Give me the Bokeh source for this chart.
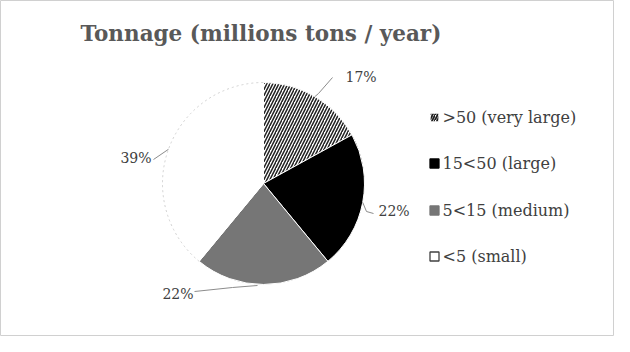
import numpy as np
from bokeh.plotting import figure
from bokeh.models import Range1d
from bokeh.core.properties import value
from bokeh.embed import file_html
from bokeh.resources import INLINE

# ---- data ----
categories = [">50  (very large)", "15<50 (large)", "5<15 (medium)", "<5 (small)"]
shares = [17, 22, 22, 39]
pct_labels = ["17%", "22%", "22%", "39%"]
fill_colors = ["white", "black", "#767676", "white"]
hatches = ["/", " ", " ", " "]

W, H = 614, 336
p = figure(width=W, height=H, output_backend="svg", toolbar_location=None,
           x_range=Range1d(0, W), y_range=Range1d(0, H), min_border=0)
p.axis.visible = False
p.grid.visible = False
p.outline_line_color = "#d0d0d0"
p.outline_line_width = 1
p.background_fill_color = "white"

FONT = value("DejaVu Serif")

def X(ix):
    return ix
def Y(iy):
    return H - iy

cx, cy, r = X(263), Y(183), 101

# wedges, clockwise from 12 o'clock
fr = np.array(shares) / sum(shares)
cum = np.concatenate([[0], np.cumsum(fr)])
start = np.pi / 2 - 2 * np.pi * cum[:-1]
end = np.pi / 2 - 2 * np.pi * cum[1:]
for i in range(len(shares)):
    p.wedge(x=cx, y=cy, radius=r, start_angle=start[i], end_angle=end[i],
            direction="clock", fill_color=fill_colors[i], line_color="#ffffff",
            line_width=1, hatch_pattern=hatches[i], hatch_color="#202020",
            hatch_scale=6, hatch_weight=1.5)
# faint outline of the white slice
p.arc(x=cx, y=cy, radius=r, start_angle=start[3], end_angle=end[3],
      direction="clock", line_color="#d0d0d0", line_width=1, line_dash="2 3")

# leader lines and percentage labels
mid = np.pi / 2 - 2 * np.pi * (cum[:-1] + fr / 2)
ex = cx + r * np.cos(mid)
ey = cy + r * np.sin(mid)
lead_x = [[ex[0], X(318), X(332)], [ex[1], X(366), X(373)],
          [ex[2] - 6, X(232), X(194)], [ex[3], X(153)]]
lead_y = [[ey[0], Y(93), Y(77)], [ey[1], Y(211), Y(213)],
          [ey[2] - 1, Y(287), Y(291)], [ey[3], Y(159)]]
p.multi_line(xs=lead_x, ys=lead_y, line_color="#8c8c8c", line_width=1)

lab_x = [X(345), X(378), X(193), X(151)]
lab_y = [Y(76), Y(210), Y(293), Y(157)]
aligns = ["left", "left", "right", "right"]
for i in range(4):
    p.text(x=[lab_x[i]], y=[lab_y[i]], text=[pct_labels[i]],
           text_font=FONT, text_font_size="14px",
           text_color="#404040", text_align=aligns[i], text_baseline="middle")

# legend
leg_y = [Y(117), Y(163), Y(210), Y(256)]
p.rect(x=[X(434)] * 4, y=leg_y, width=9, height=9,
       fill_color=fill_colors, line_color=["white", "black", "#767676", "#404040"],
       line_width=1.3, hatch_pattern=hatches, hatch_color="#202020",
       hatch_scale=5, hatch_weight=1.8)
p.text(x=[X(442)] * 4, y=leg_y, text=categories,
       text_font=FONT, text_font_size="16px",
       text_color="#404040", text_align="left", text_baseline="middle")

# title
p.text(x=[X(80)], y=[Y(33)], text=["Tonnage (millions tons / year)"],
       text_font=FONT, text_font_size="21.5px",
       text_font_style="bold", text_color="#595959",
       text_align="left", text_baseline="middle")

open("out.html", "w").write(file_html(p, INLINE))
